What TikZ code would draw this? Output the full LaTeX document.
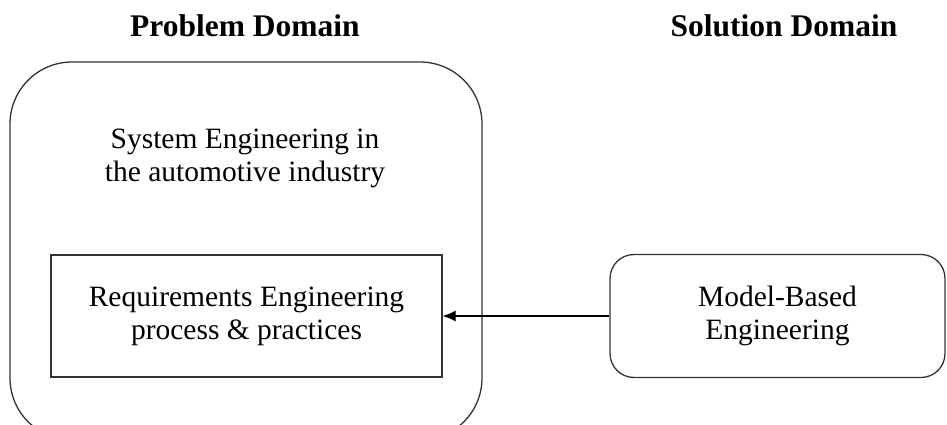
\documentclass[tikz,border=0pt]{standalone}
\usepackage{fontspec}
\setmainfont{Liberation Serif}
\usetikzlibrary{arrows.meta}
\begin{document}
\begin{tikzpicture}[x=1pt,y=-1pt,
  txt/.style={align=center,font=\fontsize{29.5}{33}\selectfont,inner sep=0pt},
  ttl/.style={font=\fontsize{31.5}{34}\selectfont\bfseries,inner sep=0pt},
  frame/.style={draw=black!80,line width=1.3pt},
  conn/.style={draw=black,line width=1.2pt,-{Latex[length=13pt,width=11pt]}}]
\useasboundingbox (0,0) rectangle (947,425);
\draw[frame,rounded corners=62pt] (10,62) rectangle (482,440);
\node[ttl] (pd) at (245,26) {Problem Domain};
\node[ttl] (sd) at (784,26) {Solution Domain};
\node[txt] (se) at (245,158) {System Engineering in\\the automotive industry};
\node[frame,draw,minimum width=391pt,minimum height=122pt,inner sep=0pt] (re) at (246.5,316) {};
\node[txt] at (re.center) {Requirements Engineering\\process \& practices};
\node[frame,draw,rounded corners=24pt,minimum width=335pt,minimum height=123pt,inner sep=0pt] (mbe) at (777.5,316) {};
\node[txt] at (mbe.center) {Model-Based\\Engineering};
\draw[conn] (mbe.west) -- (re.east);
\end{tikzpicture}
\end{document}
